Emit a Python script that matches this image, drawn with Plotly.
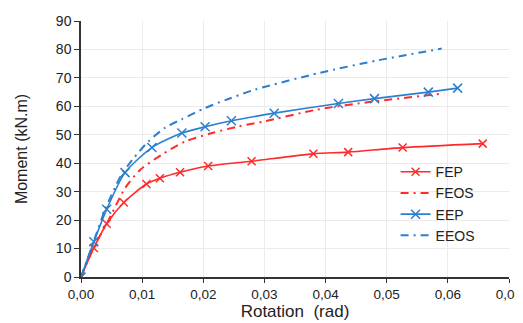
import plotly.graph_objects as go

fep_x = [0, 0.0021, 0.0042, 0.0070, 0.0107, 0.0129, 0.0162, 0.0208, 0.0279, 0.0380, 0.0437, 0.0526, 0.0657]
fep_y = [0, 10.2, 18.7, 26.2, 32.7, 34.7, 36.8, 39.0, 40.7, 43.3, 43.9, 45.5, 46.9]

feos_x = [0, 0.0020, 0.0045, 0.0072, 0.0097, 0.0132, 0.0170, 0.0214, 0.0257, 0.0300, 0.0385, 0.0478, 0.0594]
feos_y = [0, 10.0, 20.0, 31.2, 37.7, 43.0, 47.6, 50.6, 52.9, 54.7, 58.8, 61.7, 64.5]

eep_x = [0, 0.0021, 0.0042, 0.0072, 0.0116, 0.0165, 0.0203, 0.0246, 0.0316, 0.0421, 0.0480, 0.0568, 0.0616]
eep_y = [0, 12.4, 23.8, 36.7, 45.5, 50.6, 52.8, 54.9, 57.6, 61.0, 62.7, 65.0, 66.4]

eeos_x = [0, 0.0020, 0.0040, 0.0065, 0.0085, 0.0110, 0.0137, 0.0165, 0.0203, 0.0241, 0.0285, 0.0391, 0.0484, 0.0590]
eeos_y = [0, 12.0, 24.0, 35.5, 41.5, 47.6, 52.4, 55.5, 59.4, 62.6, 65.9, 71.8, 76.1, 80.3]

x_ticks = [0, 0.01, 0.02, 0.03, 0.04, 0.05, 0.06, 0.07]
x_tick_labels = ["0,00", "0,01", "0,02", "0,03", "0,04", "0,05", "0,06", "0,07"]
y_ticks = [0, 10, 20, 30, 40, 50, 60, 70, 80, 90]

RED = "#ff2a2a"
BLUE = "#2a7fd0"
DASHDOT = "8px,5px,2px,5px"

fig = go.Figure()
fig.add_trace(go.Scatter(x=fep_x, y=fep_y, name="FEP", mode="lines+markers",
                         line=dict(color=RED, width=1.6, shape="spline", smoothing=0.7),
                         marker=dict(symbol="x-thin", size=8, line=dict(color=RED, width=1.5))))
fig.add_trace(go.Scatter(x=feos_x, y=feos_y, name="FEOS", mode="lines",
                         line=dict(color=RED, width=2, dash=DASHDOT, shape="spline", smoothing=0.7)))
fig.add_trace(go.Scatter(x=eep_x, y=eep_y, name="EEP", mode="lines+markers",
                         line=dict(color=BLUE, width=1.6, shape="spline", smoothing=0.7),
                         marker=dict(symbol="x-thin", size=9, line=dict(color=BLUE, width=1.5))))
fig.add_trace(go.Scatter(x=eeos_x, y=eeos_y, name="EEOS", mode="lines",
                         line=dict(color=BLUE, width=2, dash=DASHDOT, shape="spline", smoothing=0.7)))

# the page body has an 8px margin, so the figure is drawn 8px smaller
fig.update_layout(
    width=515, height=315,
    margin=dict(l=73, r=14, t=13, b=46),
    paper_bgcolor="white", plot_bgcolor="white",
    font=dict(family="Liberation Sans, Arial, sans-serif", size=13, color="#222"),
    showlegend=True,
    legend=dict(x=0.735, y=0.472, xanchor="left", yanchor="top",
                bgcolor="rgba(0,0,0,0)", font=dict(size=14), tracegroupgap=0),
    xaxis=dict(range=[0, 0.07], tickvals=x_ticks, ticktext=x_tick_labels,
               showgrid=True, gridcolor="#ebebeb", gridwidth=1,
               showline=True, linecolor="#333", linewidth=1.5,
               ticks="outside", ticklen=4, tickcolor="#333",
               tickfont=dict(size=13.5), zeroline=False, automargin=False,
               title=dict(text="Rotation  (rad)", font=dict(size=17), standoff=3)),
    yaxis=dict(range=[0, 90], tickvals=y_ticks,
               showgrid=True, gridcolor="#ebebeb", gridwidth=1,
               showline=True, linecolor="#333", linewidth=1.5,
               ticks="outside", ticklen=5, tickcolor="#333",
               tickfont=dict(size=14), zeroline=False, automargin=False,
               title=dict(text="Moment (kN.m)", font=dict(size=16), standoff=24)),
)

fig.write_html("out.html")
